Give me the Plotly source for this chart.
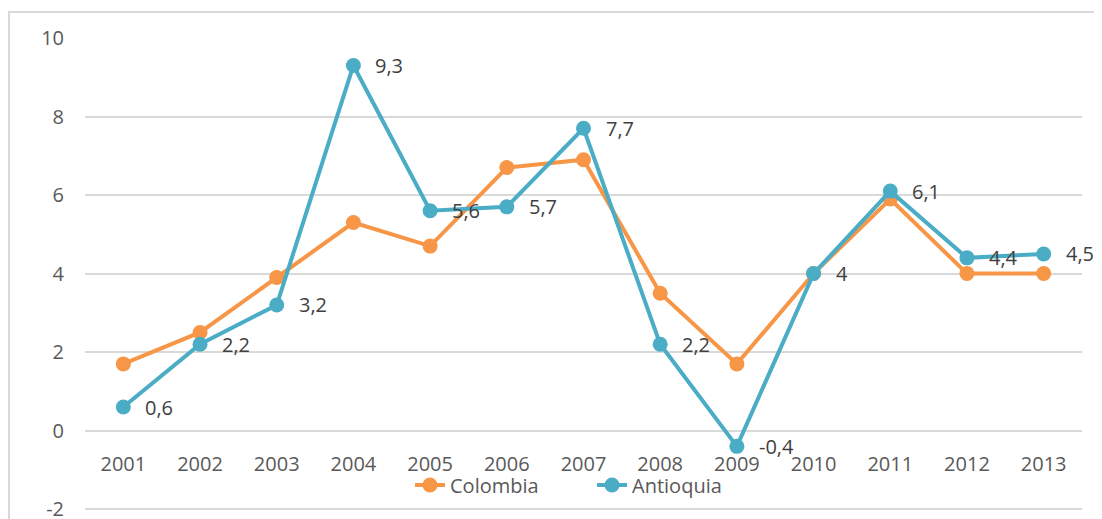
import plotly.graph_objects as go

years = ["2001", "2002", "2003", "2004", "2005", "2006", "2007",
         "2008", "2009", "2010", "2011", "2012", "2013"]
colombia = [1.7, 2.5, 3.9, 5.3, 4.7, 6.7, 6.9, 3.5, 1.7, 4.0, 5.9, 4.0, 4.0]
antioquia = [0.6, 2.2, 3.2, 9.3, 5.6, 5.7, 7.7, 2.2, -0.4, 4.0, 6.1, 4.4, 4.5]
antioquia_labels = [("%g" % v).replace(".", ",") for v in antioquia]
y_ticks = [-2, 0, 2, 4, 6, 8, 10]
y_tick_text = ["-2", "0", "2", "4", "6", "8", "10"]

ORANGE = "#F79646"
BLUE = "#4BACC6"
TEXT = "#595959"
LABEL = "#404040"
GRID = "#D9D9D9"
FONT = "Open Sans"
FS = 20

Y_MIN, Y_MAX = -2.2, 10

fig = go.Figure()
fig.add_trace(go.Scatter(
    x=years, y=colombia, name="Colombia", mode="lines+markers",
    line=dict(color=ORANGE, width=4), marker=dict(color=ORANGE, size=15),
))
fig.add_trace(go.Scatter(
    x=years, y=antioquia, name="Antioquia", mode="lines+markers",
    line=dict(color=BLUE, width=4), marker=dict(color=BLUE, size=15),
))

# data labels: x given as category index on the category axis
annotations = [
    dict(x=i, y=v, xref="x", yref="y", text=t, showarrow=False,
         xanchor="left", yanchor="middle", xshift=20,
         font=dict(family=FONT, size=FS, color=LABEL))
    for i, (v, t) in enumerate(zip(antioquia, antioquia_labels))
]

# page body has an 8px margin, so width/height and left/top margins are reduced by 8px
fig.update_layout(
    width=1094, height=511,
    margin=dict(l=77, r=20, t=30, b=2, autoexpand=False),
    plot_bgcolor="white", paper_bgcolor="white",
    font=dict(family=FONT, size=FS, color=TEXT),
    showlegend=True,
    legend=dict(orientation="h", x=0.326, xanchor="left", y=32/479, yanchor="middle",
                font=dict(size=FS, color=TEXT), bgcolor="rgba(0,0,0,0)",
                itemwidth=30, tracegroupgap=0, entrywidth=137, entrywidthmode="pixels"),
    xaxis=dict(type="category", anchor="free", position=(0 - Y_MIN) / (Y_MAX - Y_MIN),
               showgrid=False, showline=False, zeroline=False, ticks="", automargin=False,
               ticklabelstandoff=19, tickfont=dict(size=FS, color=TEXT), range=[-0.5, 12.5]),
    yaxis=dict(range=[Y_MIN, Y_MAX], tickvals=y_ticks, ticktext=y_tick_text, showgrid=True,
               gridcolor=GRID, gridwidth=1.5, ticklabeloverflow="allow", automargin=False,
               zeroline=False, showline=False, ticks="", ticklabelstandoff=20,
               tickfont=dict(size=FS, color=TEXT)),
    annotations=annotations,
    shapes=[dict(type="rect", xref="paper", yref="paper",
                 x0=-76/997, x1=1.05, y0=-0.1, y1=1 + 26/479,
                 line=dict(color=GRID, width=2), fillcolor="rgba(0,0,0,0)", layer="below")],
)

fig.write_html("out.html")
